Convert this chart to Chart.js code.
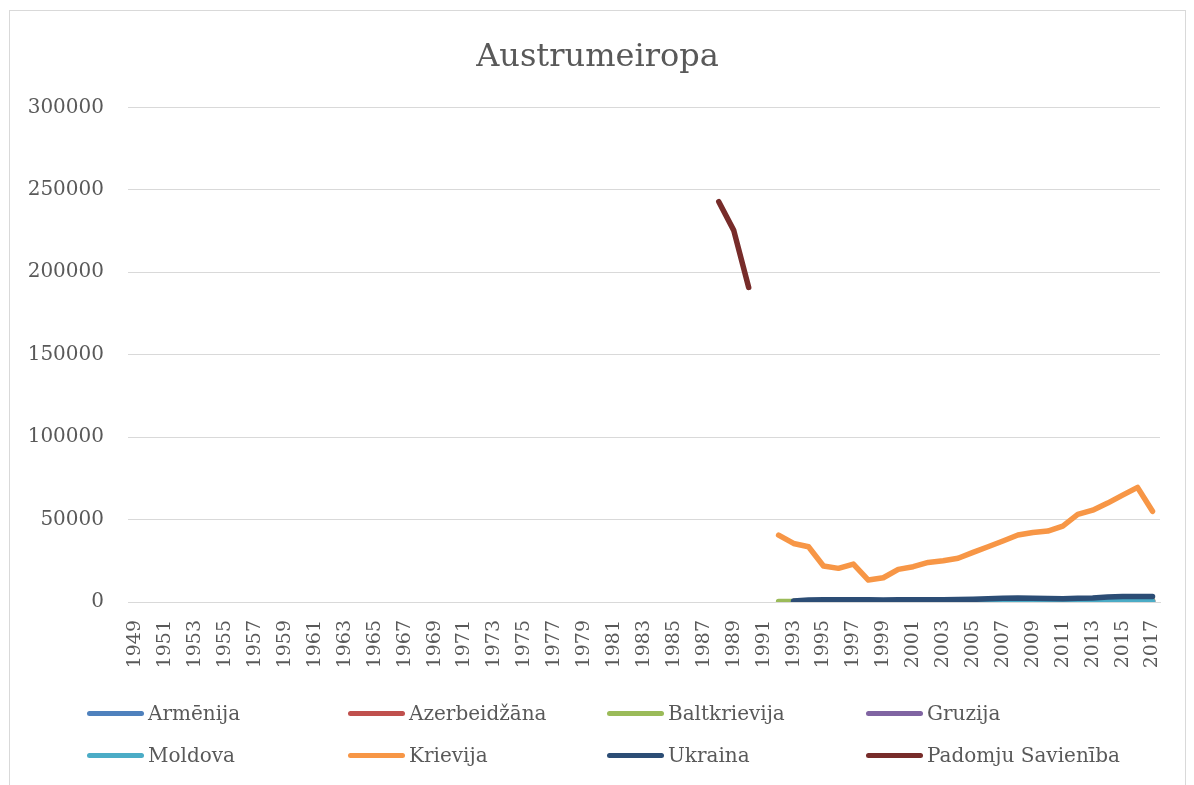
<!DOCTYPE html>
<html>
<head>
<meta charset="utf-8">
<script src="https://cdn.jsdelivr.net/npm/chart.js@4/dist/chart.umd.min.js"></script>
<style>
  html, body { margin: 0; padding: 0; background: #fff; }
  #wrap { position: relative; width: 1194px; height: 785px; overflow: hidden; }
  #frame { position: absolute; left: 9px; top: 10px; width: 1177px; height: 790px; border: 1px solid #D9D9D9; box-sizing: border-box; }
  #legend { position: absolute; left: 0; top: 0; width: 1194px; height: 785px; pointer-events: none; }
  .item { position: absolute; display: flex; align-items: center; font-family: "DejaVu Serif", serif; font-size: 20px; color: #595959; white-space: nowrap; }
  .mark { width: 57px; height: 5px; border-radius: 3px; margin-right: 4px; }
</style>
</head>
<body>
<div id="wrap">
  <div id="frame"></div>
  <canvas id="chart" width="1194" height="785"></canvas>
  <div id="legend"></div>
</div>
<script>
// kategorijas (gadi)
const firstYear = 1949;
const lastYear = 2017;
const years = Array.from({ length: lastYear - firstYear + 1 }, (_, i) => String(firstYear + i));

// sērijas: sākuma gads + vērtības
const armenijaStart = 1993;
const armenija = [150, 180, 200, 200, 220, 230, 240, 250, 260, 270, 280, 300, 320, 340, 360, 380, 350, 330, 340, 360, 380, 400, 420, 430, 440];
const azerbaidzanaStart = 1993;
const azerbaidzana = [300, 350, 400, 420, 450, 480, 500, 520, 540, 560, 600, 650, 700, 750, 800, 850, 800, 780, 800, 820, 850, 900, 950, 960, 970];
const baltkrievijaStart = 1992;
const baltkrievija = [300, 350, 400, 420, 450, 470, 480, 500, 520, 540, 560, 600, 650, 700, 750, 800, 850, 800, 780, 800, 820, 850, 900, 950, 960, 970];
const gruzijaStart = 1993;
const gruzija = [100, 120, 130, 140, 150, 160, 170, 180, 190, 200, 210, 220, 230, 240, 250, 260, 250, 240, 250, 260, 270, 280, 290, 300, 310];
const moldovaStart = 1993;
const moldova = [100, 110, 120, 120, 130, 130, 140, 140, 150, 150, 160, 170, 180, 190, 200, 210, 200, 190, 200, 210, 220, 230, 240, 250, 260];
const krievijaStart = 1992;
const krievija = [40600, 35500, 33500, 21800, 20400, 23000, 13300, 14700, 19800, 21400, 24000, 25000, 26500, 30100, 33500, 37000, 40600, 42200, 43000, 46000, 53100, 55700, 60000, 64800, 69500, 55000];
const ukrainaStart = 1993;
const ukraina = [600, 1200, 1300, 1300, 1400, 1300, 1200, 1400, 1300, 1300, 1400, 1500, 1600, 1900, 2300, 2400, 2200, 2100, 2000, 2200, 2400, 3000, 3300, 3400, 3300];
const padomjuStart = 1988;
const padomju = [242800, 225400, 190800];

const seriesNames = ['Armēnija', 'Azerbeidžāna', 'Baltkrievija', 'Gruzija', 'Moldova', 'Krievija', 'Ukraina', 'Padomju Savienība'];
const seriesColors = ['#4F81BD', '#C0504D', '#9BBB59', '#8064A2', '#4BACC6', '#F79646', '#2C4D75', '#772C2A'];
const seriesData = [
  [armenijaStart, armenija],
  [azerbaidzanaStart, azerbaidzana],
  [baltkrievijaStart, baltkrievija],
  [gruzijaStart, gruzija],
  [moldovaStart, moldova],
  [krievijaStart, krievija],
  [ukrainaStart, ukraina],
  [padomjuStart, padomju]
];

const yTicks = [0, 50000, 100000, 150000, 200000, 250000, 300000];

function toFull(start, values) {
  return years.map((y) => {
    const idx = Number(y) - start;
    return idx >= 0 && idx < values.length ? values[idx] : null;
  });
}

const datasets = seriesNames.map((name, i) => ({
  label: name,
  data: toFull(seriesData[i][0], seriesData[i][1]),
  borderColor: seriesColors[i],
  backgroundColor: seriesColors[i],
  borderWidth: 5.5,
  borderCapStyle: 'round',
  borderJoinStyle: 'round',
  pointRadius: 0,
  fill: false,
  tension: 0,
  order: seriesNames.length - i // vēlākās sērijas virs iepriekšējām
}));

const textColor = '#595959';
const gridColor = '#D9D9D9';

// virsraksts centrēts pēc rāmja, nevis pēc diagrammas laukuma
const centerTitle = {
  id: 'centerTitle',
  afterLayout(chart) {
    const t = chart.titleBlock;
    if (t) { t.left = 9; t.right = 1186; t.width = 1177; }
  }
};

const ctx = document.getElementById('chart').getContext('2d');
const chart = new Chart(ctx, {
  type: 'line',
  data: { labels: years, datasets: datasets },
  plugins: [centerTitle],
  options: {
    responsive: false,
    animation: false,
    layout: { padding: { left: 0, right: 34, top: 0, bottom: 0 } },
    plugins: {
      legend: { display: false },
      tooltip: { enabled: false },
      title: {
        display: true,
        text: 'Austrumeiropa',
        color: textColor,
        font: { family: 'DejaVu Serif', size: 32, weight: 'normal' },
        padding: { top: 38, bottom: 31 }
      }
    },
    scales: {
      x: {
        type: 'category',
        offset: true,
        grid: { display: false, drawTicks: false },
        border: { display: true, color: gridColor },
        afterFit: (scale) => { scale.height = 183; },
        ticks: {
          autoSkip: false,
          minRotation: 90,
          maxRotation: 90,
          padding: 18,
          color: textColor,
          font: { family: 'DejaVu Serif', size: 19 },
          callback: function (value, index) {
            return index % 2 === 0 ? this.getLabelForValue(value) : '';
          }
        }
      },
      y: {
        min: 0,
        max: 300000,
        afterFit: (scale) => { scale.width = 128; },
        afterBuildTicks: (scale) => { scale.ticks = yTicks.map((v) => ({ value: v })); },
        grid: { color: gridColor, lineWidth: 1, drawTicks: false },
        border: { display: false },
        ticks: {
          padding: 24,
          color: textColor,
          font: { family: 'DejaVu Serif', size: 20 },
          callback: (v) => String(v)
        }
      }
    }
  }
});

// leģenda: 2 rindas pa 4 kolonnām
const legendEl = document.getElementById('legend');
const colX = [87, 348, 607, 866];
const rowY = [713, 755];
chart.data.datasets.forEach((ds, i) => {
  const item = document.createElement('div');
  item.className = 'item';
  item.style.left = colX[i % 4] + 'px';
  item.style.top = (rowY[Math.floor(i / 4)] - 14) + 'px';
  item.style.height = '28px';
  const mark = document.createElement('span');
  mark.className = 'mark';
  mark.style.background = ds.borderColor;
  const txt = document.createElement('span');
  txt.textContent = ds.label;
  item.appendChild(mark);
  item.appendChild(txt);
  legendEl.appendChild(item);
});
</script>
</body>
</html>
